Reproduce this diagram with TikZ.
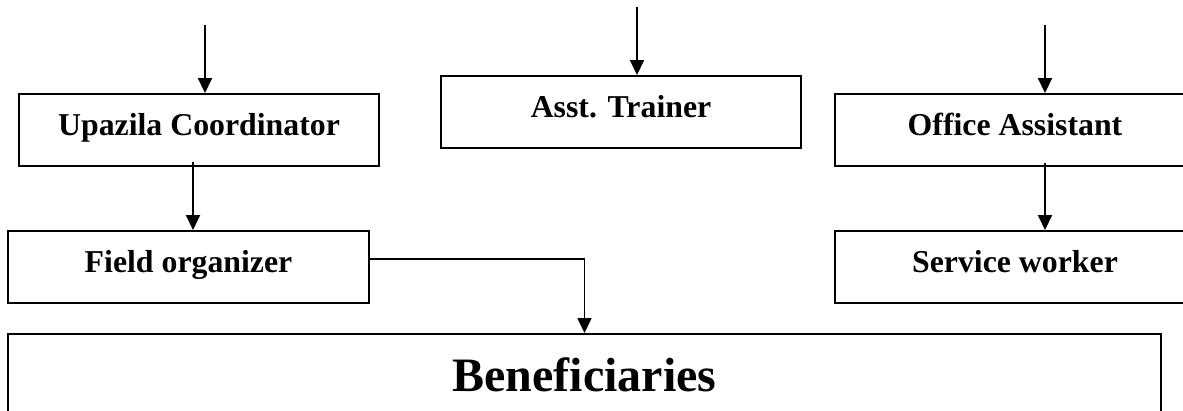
\documentclass[tikz,border=0pt]{standalone}
\usepackage{fontspec}
\setmainfont{Liberation Serif}
\usetikzlibrary{arrows.meta}
\begin{document}
\begin{tikzpicture}[x=1pt,y=-1pt,
  box/.style={draw=black, line width=2pt, rectangle, inner sep=0pt,
    font=\fontsize{31.8}{38}\selectfont\bfseries,
    text height=22pt, text depth=12pt},
  conn/.style={line width=2pt, -{Triangle[width=14pt,length=15pt]}}]
\clip (0,0) rectangle (1183,410);
\fill[white] (0,0) rectangle (1183,410);
% boxes
\node[box, minimum width=360pt, minimum height=72pt] (up) at (199,130) {Upazila Coordinator};
\node[box, minimum width=361pt, minimum height=72pt] (fo) at (188.5,267) {Field organizer};
\node[box, minimum width=360pt, minimum height=72pt] (at) at (621,112) {Asst. Trainer};
\node[box, minimum width=360pt, minimum height=72pt] (oa) at (1015,130) {Office Assistant};
\node[box, minimum width=360pt, minimum height=72pt] (sw) at (1015,267) {Service worker};
\node[box, minimum width=1153pt, minimum height=120pt, anchor=north,
  font=\fontsize{48}{56}\selectfont\bfseries, text height=32pt, text depth=38pt] (ben) at (584.5,333) {Beneficiaries};
% free ends
\coordinate (inup) at (205,25);
\coordinate (inat) at (637,7);
\coordinate (inoa) at (1045,25);
% connectors
\draw[conn] (inup) -- (inup |- up.north);
\draw[conn] (inat) -- (inat |- at.north);
\draw[conn] (inoa) -- (inoa |- oa.north);
\draw[conn] ([xshift=-6pt,yshift=5pt]up.south) -- ([xshift=4.5pt]fo.north);
\draw[conn] ([xshift=30pt,yshift=4pt]oa.south) -- ([xshift=30pt]sw.north);
\draw[conn, line width=1.6pt] ([yshift=8pt]fo.east) -| (ben.north);
\end{tikzpicture}
\end{document}
